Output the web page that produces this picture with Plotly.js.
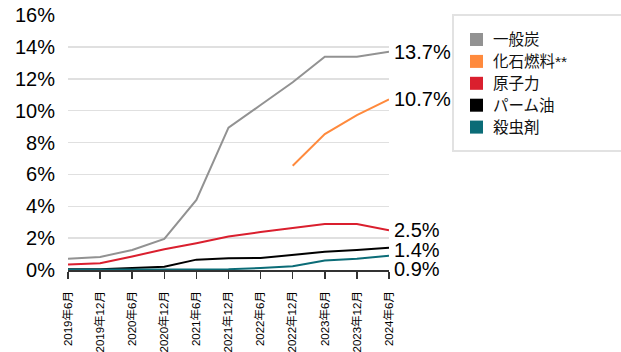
<!DOCTYPE html>
<html>
<head>
<meta charset="utf-8">
<script src="https://cdn.plot.ly/plotly-3.0.1.min.js"></script>
<style>
  html, body { margin: 0; padding: 0; background: #fff; }
  #chart { width: 621px; height: 352px; }
</style>
</head>
<body>
<div id="chart"></div>
<script>
// Half-year periods on the horizontal axis
const periods = ['2019年6月', '2019年12月', '2020年6月', '2020年12月', '2021年6月', '2021年12月',
                 '2022年6月', '2022年12月', '2023年6月', '2023年12月', '2024年6月'];

// Series names (legend order) and their values in percent
const seriesNames = ['一般炭', '化石燃料**', '原子力', 'パーム油', '殺虫剤'];
const coal       = [0.7, 0.82, 1.26, 1.95, 4.4, 8.93, 10.35, 11.78, 13.38, 13.38, 13.7];
const fossil     = [null, null, null, null, null, null, null, 6.54, 8.53, 9.72, 10.7];
const nuclear    = [0.35, 0.43, 0.85, 1.3, 1.68, 2.1, 2.38, 2.62, 2.88, 2.88, 2.5];
const palmOil    = [0.05, 0.05, 0.12, 0.2, 0.65, 0.73, 0.75, 0.95, 1.14, 1.25, 1.4];
const pesticides = [0.03, 0.03, 0.03, 0.03, 0.04, 0.05, 0.12, 0.23, 0.6, 0.7, 0.9];
const seriesValues = [coal, fossil, nuclear, palmOil, pesticides];
const seriesColors = ['#929292', '#ff8a3d', '#da1f2e', '#000000', '#0b6c77'];

const FONT = "Arial, 'Liberation Sans', 'Noto Sans CJK JP', sans-serif";

// Plot area in pixels, used to place the hand-built legend box
const W = 621, H = 352;
const M = { l: 68, r: 232, t: 15, b: 82 };
const plotW = W - M.l - M.r, plotH = H - M.t - M.b;
const px = x => (x - M.l) / plotW;
const py = y => (H - M.b - y) / plotH;

const traces = seriesNames.map((name, i) => ({
  type: 'scatter',
  mode: 'lines',
  name: name,
  x: periods,
  y: seriesValues[i],
  line: { color: seriesColors[i], width: 2 },
  connectgaps: false,
  showlegend: false,
  hoverinfo: 'skip'
}));

// End-of-line value labels, nudged apart where they would collide
const labelShift = [0, 0, 0, -2, -13];
const annotations = seriesNames.map((name, i) => {
  const vals = seriesValues[i];
  const last = vals[vals.length - 1];
  return {
    x: periods[periods.length - 1], y: last,
    xref: 'x', yref: 'y',
    text: last.toFixed(1) + '%',
    showarrow: false,
    xanchor: 'left', yanchor: 'middle',
    xshift: 3, yshift: labelShift[i],
    font: { family: FONT, size: 20, color: '#000' }
  };
});

// Legend: bordered box with square swatches
const shapes = [{
  type: 'rect', xref: 'paper', yref: 'paper',
  x0: px(453), x1: px(624), y0: py(151), y1: py(15),
  line: { color: '#e2e2e2', width: 2 }, fillcolor: 'rgba(0,0,0,0)'
}];
const rowY = [39.5, 61.4, 83.3, 105.2, 127.1];
seriesNames.forEach((name, i) => {
  shapes.push({
    type: 'rect', xref: 'paper', yref: 'paper',
    x0: px(470), x1: px(483), y0: py(rowY[i] + 6.5), y1: py(rowY[i] - 6.5),
    line: { width: 0 }, fillcolor: seriesColors[i]
  });
  annotations.push({
    xref: 'paper', yref: 'paper', x: px(491), y: py(rowY[i]),
    xanchor: 'left', yanchor: 'middle', showarrow: false,
    text: name,
    font: { family: FONT, size: 15.5, color: '#111' }
  });
});

const layout = {
  width: W, height: H,
  margin: M,
  paper_bgcolor: '#fff', plot_bgcolor: '#fff',
  showlegend: false,
  font: { family: FONT, color: '#000' },
  xaxis: {
    type: 'category',
    range: [0, periods.length - 1],
    tickvals: periods,
    ticktext: periods,
    tickangle: -90,
    tickfont: { family: FONT, size: 11.5, color: '#000' },
    showgrid: false,
    zeroline: false,
    showline: true, linecolor: '#333', linewidth: 1.5,
    ticks: 'outside', ticklen: 7, tickcolor: '#333', tickwidth: 1.5,
    ticklabelstandoff: 8,
    fixedrange: true
  },
  yaxis: {
    range: [0, 16],
    dtick: 2,
    ticksuffix: '%',
    tickfont: { family: FONT, size: 20, color: '#000' },
    showgrid: true, gridcolor: '#e0e0e0', gridwidth: 1.5,
    zeroline: false,
    showline: false,
    ticks: '',
    ticklabelstandoff: 12,
    fixedrange: true
  },
  shapes: shapes,
  annotations: annotations
};

Plotly.newPlot('chart', traces, layout, { staticPlot: true, displayModeBar: false });
</script>
</body>
</html>
